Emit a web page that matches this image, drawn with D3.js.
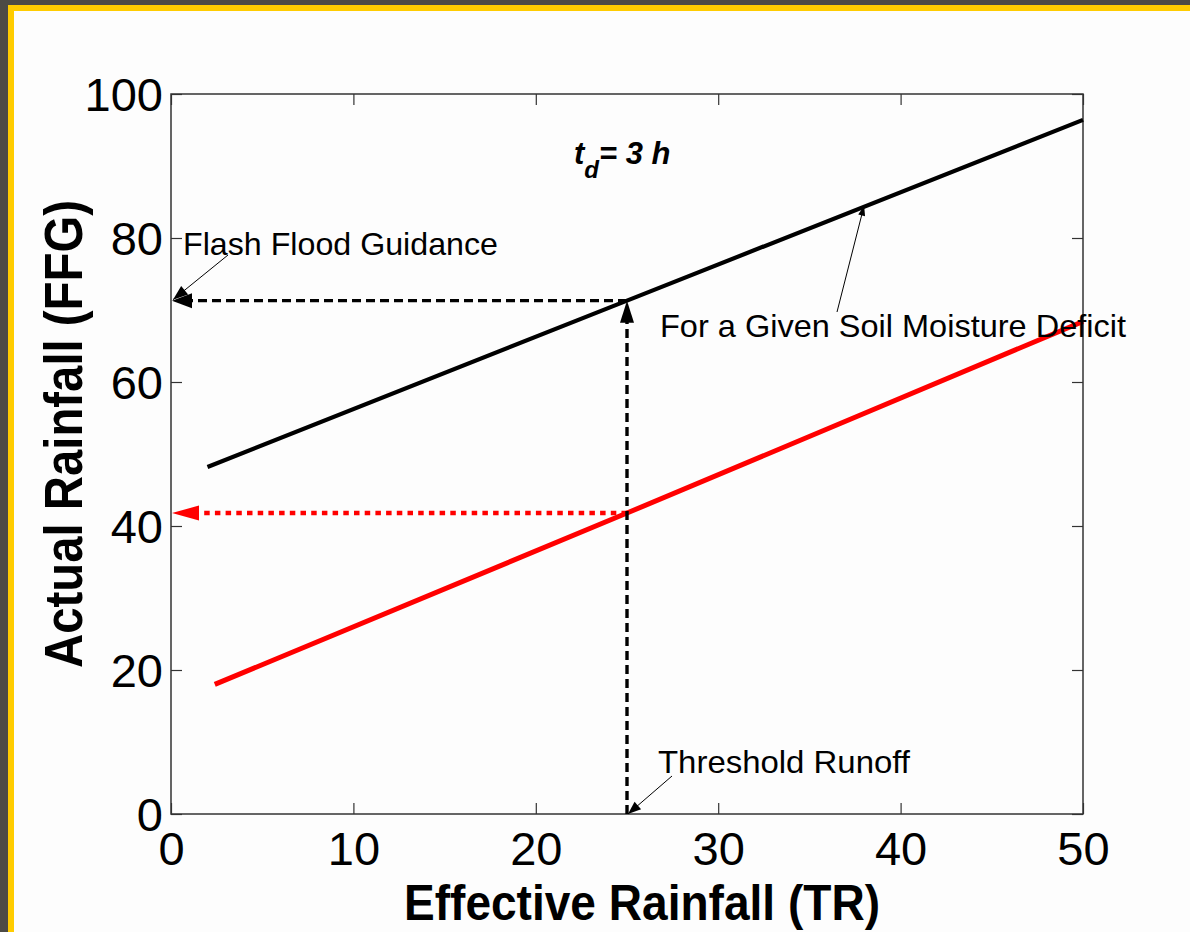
<!DOCTYPE html>
<html>
<head>
<meta charset="utf-8">
<script src="https://cdn.jsdelivr.net/npm/d3@7"></script>
<style>
  html, body { margin: 0; padding: 0; background: #4d4b45; }
  svg { display: block; }
  text { font-family: "Liberation Sans", Arial, Helvetica, sans-serif; }
</style>
</head>
<body>
<svg id="chart" width="1190" height="932"></svg>
<script>
// Axis ticks
const xTicks = [0, 10, 20, 30, 40, 50];
const yTicks = [0, 20, 40, 60, 80, 100];

// Rainfall–runoff relations (effective rainfall TR -> actual rainfall)
const soilDeficitCurve = [[2, 48.2], [25, 71.3], [50, 96.4]];   // given soil moisture deficit
const wetterCurve      = [[2.4, 18.0], [25, 41.8], [50, 68.4]];   // lower deficit

const thresholdRunoff = 25;
const ffgValue = 71.3;
const wetterValue = 41.8;

const svg = d3.select("#chart");
const W = 1190, H = 932;

// frame: dark surround, yellow rim, white page
svg.append("rect").attr("width", W).attr("height", H).attr("fill", "#4d4b45");
svg.append("rect").attr("x", 8).attr("y", 5).attr("width", W - 8).attr("height", H - 5).attr("fill", "#ffcc00");
svg.append("rect").attr("x", 14).attr("y", 11).attr("width", W - 14).attr("height", H - 11).attr("fill", "#fdfdfd");

const plot = { left: 171, right: 1083, top: 94, bottom: 814 };
const x = d3.scaleLinear().domain([0, 50]).range([plot.left, plot.right]);
const y = d3.scaleLinear().domain([0, 100]).range([plot.bottom, plot.top]);

const g = svg.append("g");

// axes with inward ticks on all four sides
const tickLen = 11;
const axisBottom = d3.axisBottom(x).tickValues(xTicks).tickSizeInner(-tickLen).tickSizeOuter(0).tickPadding(18);
const axisTop = d3.axisTop(x).tickValues(xTicks).tickSizeInner(-tickLen).tickSizeOuter(0).tickFormat("");
const axisLeft = d3.axisLeft(y).tickValues(yTicks).tickSizeInner(-tickLen).tickSizeOuter(0).tickPadding(8);
const axisRight = d3.axisRight(y).tickValues(yTicks).tickSizeInner(-tickLen).tickSizeOuter(0).tickFormat("");

function styleAxis(sel) {
  sel.select(".domain").remove();
  sel.selectAll("line").attr("stroke", "#333").attr("stroke-width", 1.2);
  sel.selectAll("text")
    .attr("font-size", 47)
    .attr("fill", "#000")
    .style("font-family", "'Liberation Sans', Arial, sans-serif");
}

g.append("g").attr("transform", `translate(0,${plot.bottom})`).call(axisBottom).call(styleAxis)
  .selectAll("text").attr("dy", "0.71em").attr("y", 18);
g.append("g").attr("transform", `translate(0,${plot.top})`).call(axisTop).call(styleAxis);
g.append("g").attr("transform", `translate(${plot.left},0)`).call(axisLeft).call(styleAxis)
  .selectAll("text").attr("x", -8).attr("dy", "0.36em");
g.append("g").attr("transform", `translate(${plot.right},0)`).call(axisRight).call(styleAxis);

// plot box
g.append("rect")
  .attr("x", plot.left).attr("y", plot.top)
  .attr("width", plot.right - plot.left).attr("height", plot.bottom - plot.top)
  .attr("fill", "none").attr("stroke", "#333").attr("stroke-width", 1.5);

// axis titles
svg.append("text")
  .attr("x", (404 + 880) / 2).attr("y", 920)
  .attr("text-anchor", "middle")
  .attr("font-size", 50).attr("font-weight", "bold")
  .attr("textLength", 476).attr("lengthAdjust", "spacingAndGlyphs")
  .text("Effective Rainfall (TR)");

svg.append("text")
  .attr("transform", "translate(82,434) rotate(-90)")
  .attr("text-anchor", "middle")
  .attr("font-size", 53).attr("font-weight", "bold")
  .attr("textLength", 468).attr("lengthAdjust", "spacingAndGlyphs")
  .text("Actual Rainfall (FFG)");

// relation lines
const line = d3.line().x(d => x(d[0])).y(d => y(d[1]));
g.append("path").datum(soilDeficitCurve).attr("d", line)
  .attr("fill", "none").attr("stroke", "#000").attr("stroke-width", 4.2);
g.append("path").datum(wetterCurve).attr("d", line)
  .attr("fill", "none").attr("stroke", "#ff0000").attr("stroke-width", 5);

// filled arrowhead: tip point, a point it comes from, length and half width
function arrowHead(tip, from, len, half, color) {
  const dx = tip[0] - from[0], dy = tip[1] - from[1];
  const d = Math.hypot(dx, dy);
  const ux = dx / d, uy = dy / d;
  const bx = tip[0] - ux * len, by = tip[1] - uy * len;
  const pts = [tip, [bx - uy * half, by + ux * half], [bx + uy * half, by - ux * half]];
  g.append("polygon").attr("points", pts.map(p => p.join(",")).join(" ")).attr("fill", color);
}

// red dotted read-off to the axis
g.append("line")
  .attr("x1", x(thresholdRunoff)).attr("y1", y(wetterValue))
  .attr("x2", x(0) + 22).attr("y2", y(wetterValue))
  .attr("stroke", "#ff0000").attr("stroke-width", 4.5).attr("stroke-dasharray", "5.5 5.2");
arrowHead([x(0) + 1, y(wetterValue)], [x(thresholdRunoff), y(wetterValue)], 27, 7.5, "#ff0000");

// black dashed path: threshold runoff up to the curve, then across to FFG
g.append("line")
  .attr("x1", x(thresholdRunoff)).attr("y1", y(0))
  .attr("x2", x(thresholdRunoff)).attr("y2", y(ffgValue) + 18)
  .attr("stroke", "#000").attr("stroke-width", 3.4).attr("stroke-dasharray", "9 5");
arrowHead([x(thresholdRunoff), y(ffgValue)], [x(thresholdRunoff), y(0)], 22, 7, "#000");

g.append("line")
  .attr("x1", x(thresholdRunoff)).attr("y1", y(ffgValue))
  .attr("x2", x(0) + 15).attr("y2", y(ffgValue))
  .attr("stroke", "#000").attr("stroke-width", 3.4).attr("stroke-dasharray", "9 5");
arrowHead([x(0) + 1, y(ffgValue)], [x(thresholdRunoff), y(ffgValue)], 20, 7.5, "#000");

// annotations with thin leader arrows
function leader(from, tip, len, half) {
  g.append("line")
    .attr("x1", from[0]).attr("y1", from[1]).attr("x2", tip[0]).attr("y2", tip[1])
    .attr("stroke", "#000").attr("stroke-width", 1);
  arrowHead(tip, from, len, half, "#000");
}

function label(txt, xx, yy, width) {
  svg.append("text")
    .attr("x", xx).attr("y", yy)
    .attr("font-size", 32)
    .attr("textLength", width).attr("lengthAdjust", "spacingAndGlyphs")
    .text(txt);
}

label("Flash Flood Guidance", 183, 255, 315);
leader([228, 255], [x(0) + 2, y(ffgValue) - 1], 15, 5.5);

label("For a Given Soil Moisture Deficit", 660, 337, 466);
leader([837, 312], [x(38), y(84.5)], 10, 3.5);

label("Threshold Runoff", 658, 773, 252);
leader([672, 776], [x(thresholdRunoff) + 1, y(0)], 13, 5);

// duration label
const td = svg.append("text")
  .attr("x", 574).attr("y", 164)
  .attr("font-size", 31).attr("font-weight", "bold").attr("font-style", "italic");
td.append("tspan").text("t");
td.append("tspan").attr("font-size", 24).attr("dy", 14).text("d");
td.append("tspan").attr("dy", -14).text("= 3 h");
</script>
</body>
</html>
